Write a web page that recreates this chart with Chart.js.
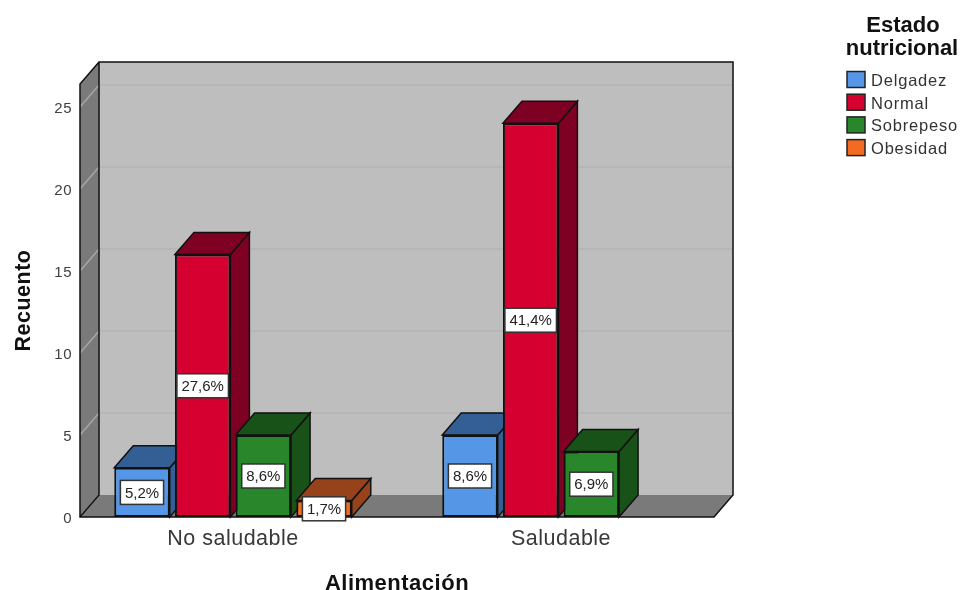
<!DOCTYPE html>
<html>
<head>
<meta charset="utf-8">
<title>Recuento por alimentación</title>
<script src="https://cdn.jsdelivr.net/npm/chart.js@4"></script>
<style>
  html, body { margin: 0; background: #fff; }
  canvas { display: block; }
</style>
</head>
<body>
<canvas id="chart" width="963" height="590"></canvas>
<script>
const categories = ['No saludable', 'Saludable'];
const seriesNames = ['Delgadez', 'Normal', 'Sobrepeso', 'Obesidad'];
const delgadez = [3, 5];
const normal = [16, 24];
const sobrepeso = [5, 4];
const obesidad = [1, null];
const delgadezPct = ['5,2%', '8,6%'];
const normalPct = ['27,6%', '41,4%'];
const sobrepesoPct = ['8,6%', '6,9%'];
const obesidadPct = ['1,7%', null];
const yTicks = [0, 5, 10, 15, 20, 25];

const frontColors = ['#5596e6', '#d60030', '#2a862a', '#f26b21'];
const faceColors = ['#335f94', '#7e0022', '#195219', '#96431b'];

const FONT = '"Liberation Sans", Arial, sans-serif';
const DEPTH_X = 19;
const DEPTH_Y = 22;
const WALL_INSET = 11; // category bands run a little wider than the floor

function poly(ctx, pts, fill, stroke, lw) {
  ctx.beginPath();
  pts.forEach((p, i) => (i ? ctx.lineTo(p[0], p[1]) : ctx.moveTo(p[0], p[1])));
  ctx.closePath();
  if (fill) {
    ctx.fillStyle = fill;
    ctx.fill();
  }
  if (stroke) {
    ctx.strokeStyle = stroke;
    ctx.lineWidth = lw || 1.5;
    ctx.stroke();
  }
}

// Box behind the bars: back wall, left wall, floor and their grid lines
const wallsPlugin = {
  id: 'walls',
  afterLayout(chart) {
    // tick labels sit slightly inside the band area, over the wall's outer margin
    chart.scales.y.right = chart.chartArea.left + 3;
  },
  beforeDraw(chart) {
    chart.ctx.letterSpacing = '0.5px';
  },
  beforeDatasetsDraw(chart) {
    const { ctx, chartArea, scales } = chart;
    const l = chartArea.left + WALL_INSET;
    const r = chartArea.right - WALL_INSET;
    const t = chartArea.top;
    const b = chartArea.bottom;
    ctx.save();
    poly(ctx, [[l + DEPTH_X, t - DEPTH_Y], [r + DEPTH_X, t - DEPTH_Y], [r + DEPTH_X, b - DEPTH_Y], [l + DEPTH_X, b - DEPTH_Y]], '#bebebe');
    poly(ctx, [[l, b], [l, t], [l + DEPTH_X, t - DEPTH_Y], [l + DEPTH_X, b - DEPTH_Y]], '#7a7a7a');
    poly(ctx, [[l, b], [r, b], [r + DEPTH_X, b - DEPTH_Y], [l + DEPTH_X, b - DEPTH_Y]], '#7a7a7a');

    yTicks.forEach(v => {
      const y = scales.y.getPixelForValue(v);
      ctx.lineWidth = 1.5;
      ctx.strokeStyle = '#a6a6a6';
      ctx.beginPath();
      ctx.moveTo(l, y);
      ctx.lineTo(l + DEPTH_X, y - DEPTH_Y);
      ctx.stroke();
      if (v > 0) {
        ctx.strokeStyle = '#b3b3b3';
        ctx.lineWidth = 1.5;
        ctx.beginPath();
        ctx.moveTo(l + DEPTH_X, y - DEPTH_Y);
        ctx.lineTo(r + DEPTH_X, y - DEPTH_Y);
        ctx.stroke();
      }
    });

    ctx.strokeStyle = '#111';
    ctx.lineWidth = 1.5;
    ctx.beginPath();
    ctx.moveTo(l, b);
    ctx.lineTo(l, t);
    ctx.lineTo(l + DEPTH_X, t - DEPTH_Y);
    ctx.lineTo(r + DEPTH_X, t - DEPTH_Y);
    ctx.lineTo(r + DEPTH_X, b - DEPTH_Y);
    ctx.lineTo(r, b);
    ctx.closePath();
    ctx.moveTo(l + DEPTH_X, t - DEPTH_Y);
    ctx.lineTo(l + DEPTH_X, b - DEPTH_Y);
    ctx.lineTo(l, b);
    ctx.stroke();
    ctx.restore();
  }
};

// Bars are painted left to right so each one overlaps its neighbour's side face
const barFacesPlugin = {
  id: 'barFaces',
  beforeDatasetDraw() {
    return false;
  },
  afterDatasetsDraw(chart) {
    const { ctx } = chart;
    chart.data.datasets.forEach((ds, idx) => {
      const meta = chart.getDatasetMeta(idx);
      ctx.save();
      meta.data.forEach((bar, i) => {
        if (ds.data[i] == null) return;
        const l = bar.x - bar.width / 2;
        const r = bar.x + bar.width / 2;
        const t = bar.y;
        const b = bar.base;
        const fc = faceColors[idx];
        poly(ctx, [[r, t], [r + DEPTH_X, t - DEPTH_Y], [r + DEPTH_X, b - DEPTH_Y], [r, b]], fc, '#111');
        poly(ctx, [[l, t], [l + DEPTH_X, t - DEPTH_Y], [r + DEPTH_X, t - DEPTH_Y], [r, t]], fc, '#111');
      });
      ctx.restore();
      meta.controller.draw();
    });
  }
};

// White percentage boxes centred on the front faces
const pctBoxPlugin = {
  id: 'pctBoxes',
  afterDatasetsDraw(chart) {
    const { ctx } = chart;
    const pct = [delgadezPct, normalPct, sobrepesoPct, obesidadPct];
    ctx.save();
    ctx.letterSpacing = '0px';
    ctx.font = '15px ' + FONT;
    ctx.textAlign = 'center';
    ctx.textBaseline = 'middle';
    chart.data.datasets.forEach((ds, idx) => {
      chart.getDatasetMeta(idx).data.forEach((bar, i) => {
        const label = pct[idx][i];
        if (!label) return;
        const cy = (bar.y + bar.base) / 2;
        const w = ctx.measureText(label).width + 9;
        ctx.fillStyle = '#fff';
        ctx.fillRect(bar.x - w / 2, cy - 12, w, 24);
        ctx.strokeStyle = '#333';
        ctx.lineWidth = 1.5;
        ctx.strokeRect(bar.x - w / 2, cy - 12, w, 24);
        ctx.fillStyle = '#222';
        ctx.fillText(label, bar.x, cy + 1);
      });
    });
    ctx.restore();
  }
};

const legendPlugin = {
  id: 'sideLegend',
  afterDraw(chart) {
    const { ctx } = chart;
    ctx.save();
    ctx.letterSpacing = '0px';
    ctx.textBaseline = 'middle';
    ctx.textAlign = 'center';
    ctx.fillStyle = '#111';
    ctx.font = 'bold 22px ' + FONT;
    ctx.fillText('Estado', 903, 26);
    ctx.fillText('nutricional', 902, 49);
    ctx.textAlign = 'left';
    ctx.font = '16.5px ' + FONT;
    ctx.letterSpacing = '0.8px';
    seriesNames.forEach((name, i) => {
      const y = 79.5 + i * 22.7;
      ctx.fillStyle = frontColors[i];
      ctx.fillRect(847, y - 8, 18, 16);
      ctx.strokeStyle = '#222';
      ctx.lineWidth = 1.5;
      ctx.strokeRect(847, y - 8, 18, 16);
      ctx.fillStyle = '#333';
      ctx.fillText(name, 871, y + 2);
    });
    ctx.restore();
  }
};

const allSeries = [delgadez, normal, sobrepeso, obesidad];

new Chart(document.getElementById('chart'), {
  type: 'bar',
  data: {
    labels: categories,
    datasets: allSeries.map((values, i) => ({
      label: seriesNames[i],
      data: values,
      backgroundColor: frontColors[i],
      borderColor: '#111',
      borderWidth: 2,
      borderSkipped: false,
      categoryPercentage: 0.74,
      barPercentage: 0.914
    }))
  },
  options: {
    responsive: false,
    animation: false,
    layout: { padding: { top: 84, right: 238, bottom: 0, left: 0 } },
    plugins: {
      legend: { display: false },
      tooltip: { enabled: false }
    },
    scales: {
      x: {
        grid: { display: false, drawTicks: false },
        border: { display: false },
        ticks: { color: '#383838', padding: 9, font: { family: FONT, size: 21.5 }, maxRotation: 0 },
        title: {
          display: true,
          text: 'Alimentación',
          color: '#111',
          font: { family: FONT, size: 22, weight: 'bold' },
          padding: { top: 0, bottom: -7 }
        },
        afterFit(scale) { scale.height = 73; }
      },
      y: {
        min: 0,
        max: 26.4,
        grid: { display: false, drawTicks: false },
        border: { display: false },
        ticks: {
          stepSize: 5,
          includeBounds: false,
          color: '#404040',
          padding: 0,
          labelOffset: 2,
          font: { family: FONT, size: 15 }
        },
        title: {
          display: true,
          text: 'Recuento',
          color: '#111',
          font: { family: FONT, size: 21.5, weight: 'bold' },
          padding: { top: 11, bottom: 0 }
        },
        afterFit(scale) { scale.width = 69; }
      }
    }
  },
  plugins: [wallsPlugin, barFacesPlugin, pctBoxPlugin, legendPlugin]
});
</script>
</body>
</html>
